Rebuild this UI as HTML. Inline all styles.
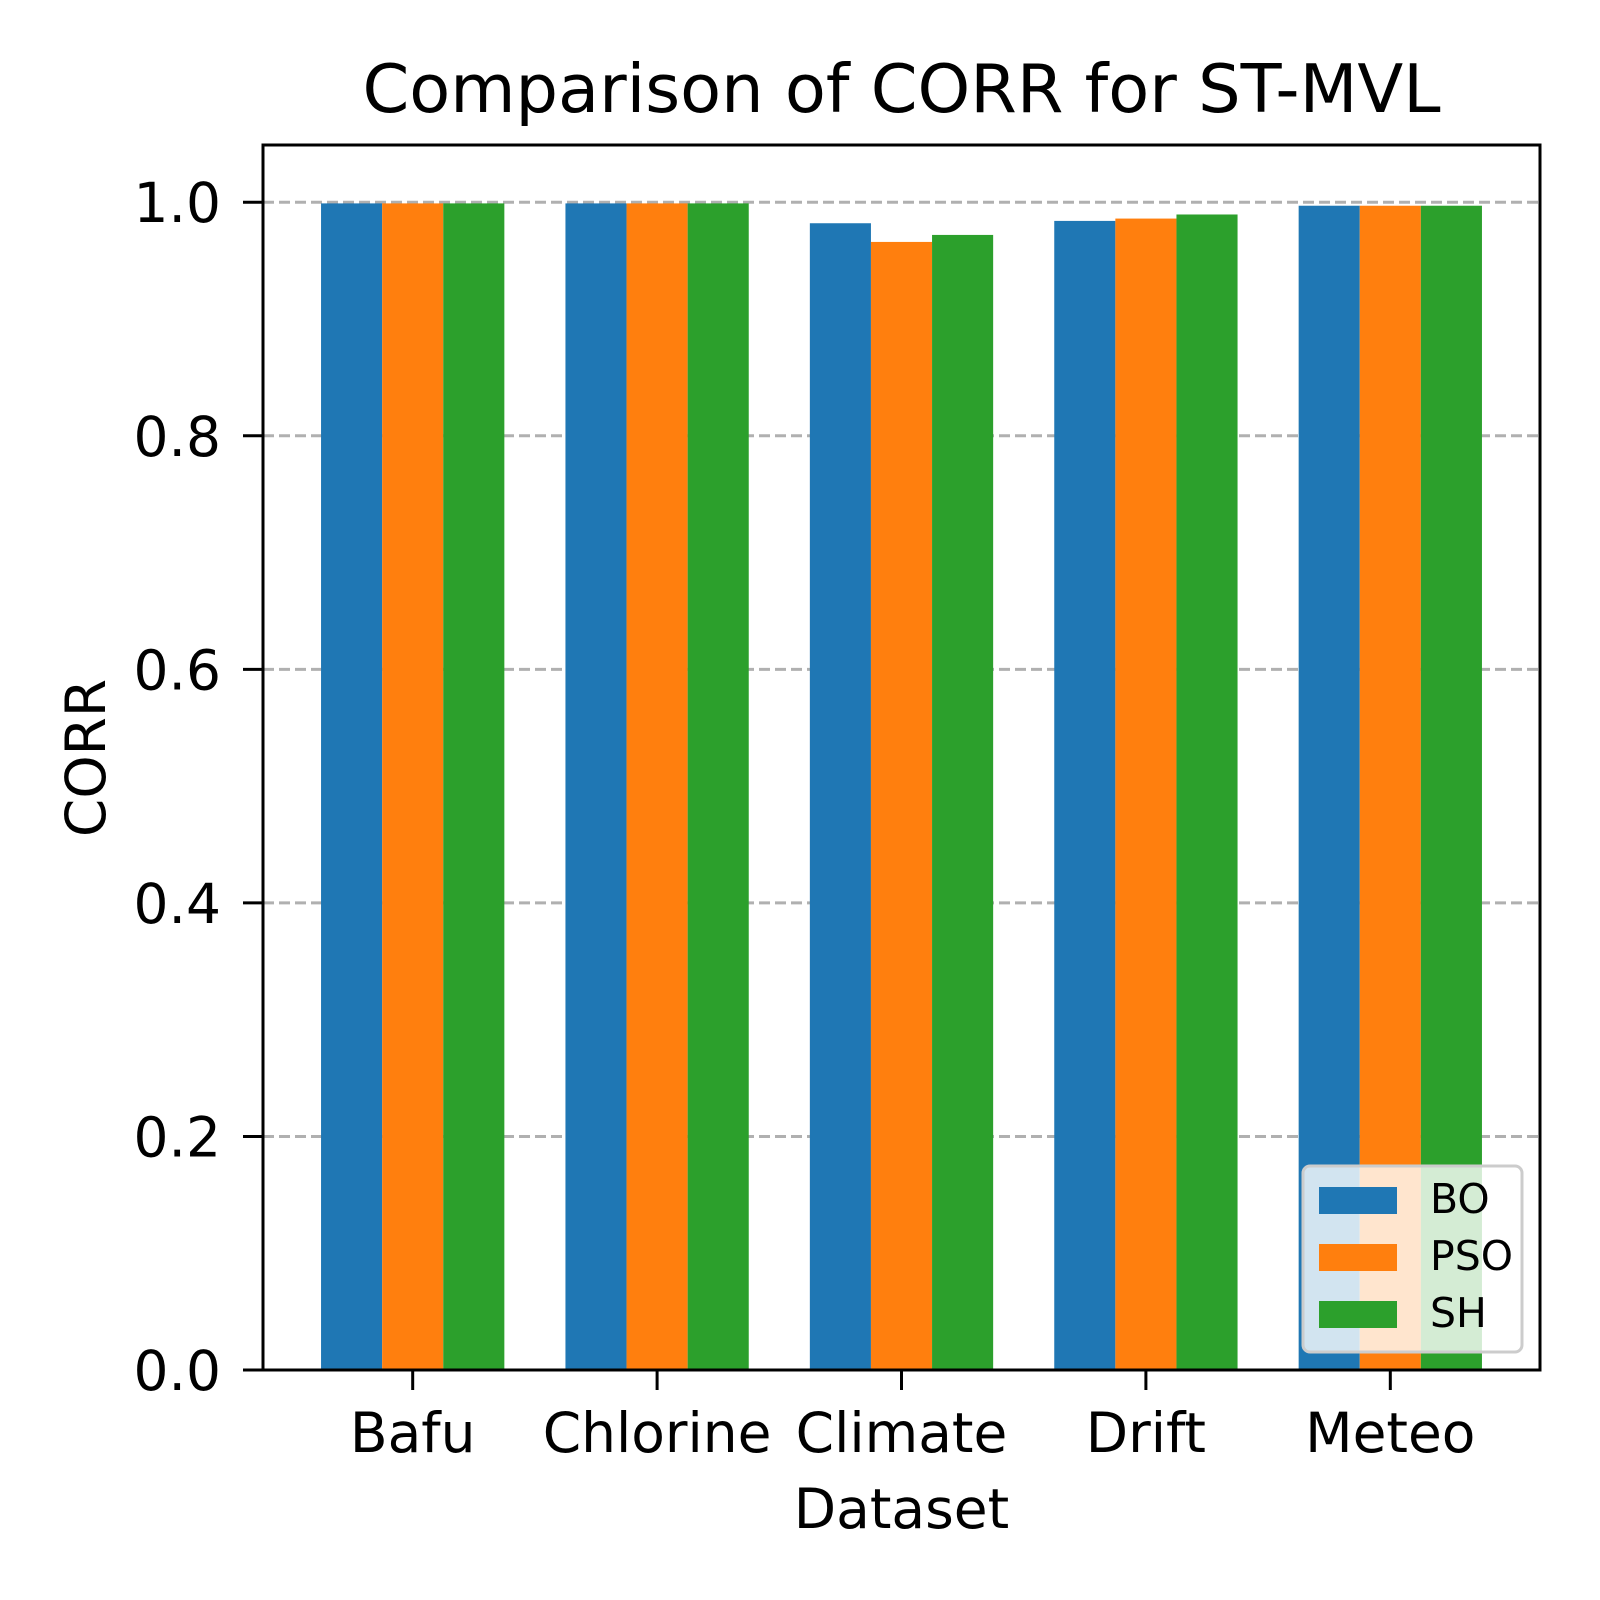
<!DOCTYPE html>
<html><head><meta charset="utf-8"><style>
html,body{margin:0;padding:0;background:#fff}
svg{display:block;font-family:"DejaVu Sans","Liberation Sans",sans-serif}
</style></head><body>
<svg id="chart" width="1600" height="1600" viewBox="0 0 1600 1600">
<rect width="1600" height="1600" fill="#fff"/>
<g id="grid"></g><g id="bars"></g><g id="axes"></g><g id="legend"></g>
</svg>
<script>
const categories = ["Bafu","Chlorine","Climate","Drift","Meteo"];
const seriesNames = ["BO","PSO","SH"];
const boValues = [0.999, 0.999, 0.982, 0.984, 0.997];
const psoValues = [0.999, 0.999, 0.966, 0.986, 0.997];
const shValues = [0.999, 0.999, 0.972, 0.9895, 0.997];
const yTicks = [0.0, 0.2, 0.4, 0.6, 0.8, 1.0];
const yTickLabels = ["0.0","0.2","0.4","0.6","0.8","1.0"];

const colors = ["#1f77b4","#ff7f0e","#2ca02c"];
const series = [boValues, psoValues, shValues];
const L=263,R=1540,T=145,B=1370;
const xMin=-0.6125,xMax=4.6125,yMin=0,yMax=1.049;
const xs=v=>L+(v-xMin)/(xMax-xMin)*(R-L);
const ys=v=>B-(v-yMin)/(yMax-yMin)*(B-T);
const NS="http://www.w3.org/2000/svg";
function mk(tag,attrs,parent,text){const e=document.createElementNS(NS,tag);for(const k in attrs)e.setAttribute(k,attrs[k]);if(text!==undefined)e.textContent=text;parent.appendChild(e);return e;}
const grid=document.getElementById('grid'),bars=document.getElementById('bars'),axes=document.getElementById('axes'),leg=document.getElementById('legend');
yTicks.forEach((t,i)=>{
  if(t>0){const g=mk('line',{x1:L,x2:R,y1:ys(t),y2:ys(t),stroke:'#b0b0b0','stroke-width':3,'stroke-dasharray':'11,5'},grid);
  
  }
  const tk=mk('line',{x1:L-20,x2:L,y1:ys(t),y2:ys(t),stroke:'#000','stroke-width':3},axes);
  
  
  const lb=mk('text',{x:L-42,y:ys(t)+20,'text-anchor':'end','font-size':55},axes,yTickLabels[i]);
  
  
});
const w=0.25;
series.forEach((vals,s)=>{vals.forEach((v,i)=>{
  const x0=xs(i+(s-1)*w-w/2),x1=xs(i+(s-1)*w+w/2);
  const r=mk('rect',{x:x0,y:ys(v),width:x1-x0,height:ys(0)-ys(v),fill:colors[s]},bars);
  
  
});});
categories.forEach((c,i)=>{
  const tk=mk('line',{x1:xs(i),x2:xs(i),y1:B,y2:B+20,stroke:'#000','stroke-width':3},axes);
  
  
  const lb=mk('text',{x:xs(i),y:B+82,'text-anchor':'middle','font-size':55},axes,c);
  
  
});
const fr=mk('rect',{x:L,y:T,width:R-L,height:B-T,fill:'none',stroke:'#000','stroke-width':3},axes);


const ti=mk('text',{x:(L+R)/2,y:112,'text-anchor':'middle','font-size':67},axes,'Comparison of CORR for ST-MVL');


const xt=mk('text',{x:(L+R)/2,y:1528,'text-anchor':'middle','font-size':55},axes,'Dataset');


const yt=mk('text',{x:0,y:0,'text-anchor':'middle','font-size':55,transform:'translate(105,758) rotate(-90)'},axes,'CORR');


const lbx=mk('rect',{x:1303,y:1166,width:219,height:186,rx:7,fill:'#fff','fill-opacity':0.8,stroke:'#ccc','stroke-width':3},leg);


seriesNames.forEach((n,s)=>{
  const y=1187+s*57;
  const p=mk('rect',{x:1319,y:y,width:78,height:27,fill:colors[s]},leg);
  
  
  const t=mk('text',{x:1430,y:y+26,'font-size':41},leg,n);
  
  
});
</script>
</body></html>
